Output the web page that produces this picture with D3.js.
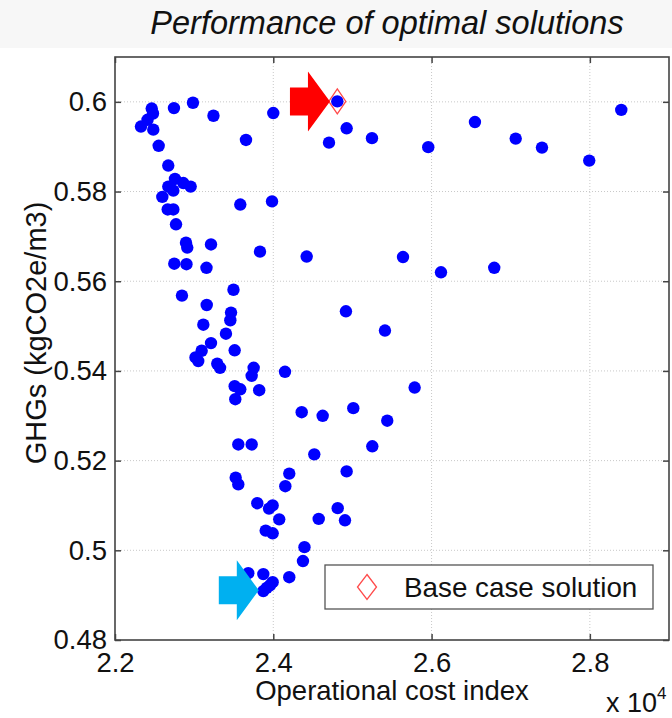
<!DOCTYPE html>
<html>
<head>
<meta charset="utf-8">
<script src="https://cdn.jsdelivr.net/npm/d3@7"></script>
<style>
  html, body { margin: 0; padding: 0; background: #ffffff; }
  svg { display: block; font-family: "Liberation Sans", Arial, Helvetica, sans-serif; }
</style>
</head>
<body>
<svg id="chart" width="672" height="718"></svg>
<script>
// ---- Data (operational cost index in units of 10^4, GHGs in kgCO2e/m3) ----
const costIndex = [
  2.2464, 2.2480, 2.2411, 2.2328, 2.2484, 2.2745, 2.2985, 2.3244, 2.4000, 2.4809,
  2.4927, 2.4704, 2.5247, 2.3655, 2.2552, 2.2673, 2.2758, 2.2863, 2.2956, 2.2673,
  2.2737, 2.2598, 2.2666, 2.2737, 2.2771, 2.2897, 2.2913, 2.3213, 2.3583, 2.3984,
  2.3832, 2.4422, 2.2749, 2.2903, 2.3156, 2.3497, 2.2846, 2.3159, 2.3466, 2.3457,
  2.3116, 2.3402, 2.3213, 2.3512, 2.3095, 2.3017, 2.3052, 2.3292, 2.3327, 2.3752,
  2.3727, 2.4148, 2.3512, 2.3583, 2.3822, 2.3520, 2.4359, 2.4624, 2.5011, 2.4918,
  2.5411, 2.5786, 2.5440, 2.5251, 2.3558, 2.3727, 2.4518, 2.4202, 2.4927, 2.3525,
  2.3558, 2.4152, 2.3798, 2.3992, 2.3946, 2.4814, 2.4075, 2.4574, 2.4906, 2.3904,
  2.3992, 2.4394, 2.4375, 2.4202, 2.3874, 2.3684, 2.3992, 2.3958, 2.3917, 2.3874,
  2.5958, 2.6548, 2.7063, 2.7395, 2.7992, 2.8397, 2.5639, 2.6119, 2.6792
];
const ghg = [
  0.5985, 0.5974, 0.5960, 0.5945, 0.5938, 0.5986, 0.5998, 0.5969, 0.5975, 0.6001,
  0.5941, 0.5909, 0.5919, 0.5915, 0.5902, 0.5858, 0.5828, 0.5819, 0.5811, 0.5811,
  0.5802, 0.5788, 0.5760, 0.5760, 0.5727, 0.5686, 0.5675, 0.5682, 0.5771, 0.5778,
  0.5666, 0.5655, 0.5639, 0.5638, 0.5630, 0.5581, 0.5568, 0.5547, 0.5530, 0.5513,
  0.5503, 0.5483, 0.5462, 0.5446, 0.5445, 0.5430, 0.5422, 0.5416, 0.5407, 0.5407,
  0.5389, 0.5398, 0.5366, 0.5359, 0.5357, 0.5337, 0.5308, 0.5300, 0.5317, 0.5533,
  0.5490, 0.5363, 0.5289, 0.5232, 0.5236, 0.5236, 0.5214, 0.5171, 0.5176, 0.5162,
  0.5147, 0.5143, 0.5105, 0.5100, 0.5093, 0.5094, 0.5069, 0.5070, 0.5067, 0.5044,
  0.5038, 0.5007, 0.4976, 0.4940, 0.4947, 0.4949, 0.4929, 0.4922, 0.4916, 0.4909,
  0.5899, 0.5955, 0.5918, 0.5898, 0.5869, 0.5982, 0.5654, 0.5620, 0.5630
];
const baseCost = [2.4809];
const baseGhg = [0.6001];
const xTicks = [2.2, 2.4, 2.6, 2.8];
const xTickLabels = ["2.2", "2.4", "2.6", "2.8"];
const yTicks = [0.48, 0.5, 0.52, 0.54, 0.56, 0.58, 0.6];
const yTickLabels = ["0.48", "0.5", "0.52", "0.54", "0.56", "0.58", "0.6"];
// annotation arrows: [cost, ghg] of the tip, colour
const arrowTips = [[2.4716, 0.6001], [2.3817, 0.4911]];
const arrowColors = ["#ff0000", "#00b0f0"];
const titleText = "Performance of optimal solutions";
const xLabel = "Operational cost index";
const yLabel = "GHGs (kgCO2e/m3)";
const legendLabel = "Base case solution";

// ---- Layout ----
const svg = d3.select("#chart");
const W = 672, H = 718;
const plot = { left: 115, right: 669, top: 57, bottom: 640 };

const x = d3.scaleLinear().domain([2.2, 2.9]).range([plot.left, plot.right]);
const y = d3.scaleLinear().domain([0.48, 0.61]).range([plot.bottom, plot.top]);

// background band behind title
svg.append("rect").attr("x", 0).attr("y", 0).attr("width", W).attr("height", 48)
  .attr("fill", "#f7f7f7");

// title
svg.append("text").attr("x", 387).attr("y", 34).attr("text-anchor", "middle")
  .attr("font-size", 32.5).attr("font-style", "italic").attr("fill", "#111")
  .text(titleText);

// plot background
svg.append("rect").attr("x", plot.left).attr("y", plot.top)
  .attr("width", plot.right - plot.left).attr("height", plot.bottom - plot.top)
  .attr("fill", "#fff");

// grid
const grid = svg.append("g").attr("stroke", "#c8c8c8").attr("stroke-width", 1)
  .attr("stroke-dasharray", "1,2");
grid.selectAll(".gx").data(xTicks.filter(d => d > 2.2)).enter().append("line")
  .attr("x1", d => x(d)).attr("x2", d => x(d)).attr("y1", plot.top).attr("y2", plot.bottom);
grid.selectAll(".gy").data(yTicks.filter(d => d > 0.48)).enter().append("line")
  .attr("y1", d => y(d)).attr("y2", d => y(d)).attr("x1", plot.left).attr("x2", plot.right);

// axes (ticks inward, labels)
const axisColor = "#444";
const xAxisB = d3.axisBottom(x).tickValues(xTicks).tickSizeInner(-6).tickSizeOuter(0)
  .tickPadding(12).tickFormat((d, i) => xTickLabels[i]);
const gxb = svg.append("g").attr("transform", `translate(0,${plot.bottom})`).call(xAxisB);
const xAxisT = d3.axisTop(x).tickValues(xTicks).tickSizeInner(-6).tickSizeOuter(0).tickFormat("");
const gxt = svg.append("g").attr("transform", `translate(0,${plot.top})`).call(xAxisT);
const yAxisL = d3.axisLeft(y).tickValues(yTicks).tickSizeInner(-6).tickSizeOuter(0)
  .tickPadding(8).tickFormat((d, i) => yTickLabels[i]);
const gyl = svg.append("g").attr("transform", `translate(${plot.left},0)`).call(yAxisL);
const yAxisR = d3.axisRight(y).tickValues(yTicks).tickSizeInner(-6).tickSizeOuter(0).tickFormat("");
const gyr = svg.append("g").attr("transform", `translate(${plot.right},0)`).call(yAxisR);

[gxb, gxt, gyl, gyr].forEach(g => {
  g.select(".domain").remove();
  g.selectAll(".tick line").attr("stroke", axisColor).attr("stroke-width", 1.5);
  g.selectAll(".tick text").attr("font-size", 27.5).attr("fill", "#111")
    .attr("font-family", "'Liberation Sans', Arial, sans-serif");
});

// frame
svg.append("rect").attr("x", plot.left).attr("y", plot.top)
  .attr("width", plot.right - plot.left).attr("height", plot.bottom - plot.top)
  .attr("fill", "none").attr("stroke", axisColor).attr("stroke-width", 1.6);

// points
const pts = costIndex.map((c, i) => ({ c, g: ghg[i] }));
svg.append("g").selectAll("circle").data(pts).enter().append("circle")
  .attr("cx", d => x(d.c)).attr("cy", d => y(d.g)).attr("r", 6.2)
  .attr("fill", "#0000ff");

// base case diamond
const diamond = (cx, cy, w, h) =>
  `M${cx},${cy - h / 2}L${cx + w / 2},${cy}L${cx},${cy + h / 2}L${cx - w / 2},${cy}Z`;
svg.append("g").selectAll("path").data(baseCost.map((c, i) => ({ c, g: baseGhg[i] })))
  .enter().append("path")
  .attr("d", d => diamond(x(d.c), y(d.g), 17, 25))
  .attr("fill", "none").attr("stroke", "#ff4a4a").attr("stroke-width", 1.3);

// arrows
const arrowPath = (tx, ty) => {
  const headL = 22, headH = 60, bodyL = 18, bodyH = 28;
  const bx = tx - headL;
  return `M${tx},${ty}L${bx},${ty - headH / 2}L${bx},${ty - bodyH / 2}L${bx - bodyL},${ty - bodyH / 2}` +
    `L${bx - bodyL},${ty + bodyH / 2}L${bx},${ty + bodyH / 2}L${bx},${ty + headH / 2}Z`;
};
svg.append("g").selectAll("path").data(arrowTips).enter().append("path")
  .attr("d", d => arrowPath(x(d[0]), y(d[1])))
  .attr("fill", (d, i) => arrowColors[i]);

// legend
const lg = svg.append("g");
lg.append("rect").attr("x", 325).attr("y", 565).attr("width", 328).attr("height", 44)
  .attr("fill", "#fff").attr("stroke", "#555").attr("stroke-width", 1.3);
lg.append("path").attr("d", diamond(367, 587, 19, 25))
  .attr("fill", "none").attr("stroke", "#ff4a4a").attr("stroke-width", 1.3);
lg.append("text").attr("x", 404).attr("y", 597).attr("font-size", 27.8).attr("fill", "#111")
  .text(legendLabel);

// axis labels
svg.append("text").attr("x", (plot.left + plot.right) / 2).attr("y", 700)
  .attr("text-anchor", "middle").attr("font-size", 27.5).attr("fill", "#111").text(xLabel);
svg.append("text").attr("transform", `translate(46,333) rotate(-90)`)
  .attr("text-anchor", "middle").attr("font-size", 29).attr("fill", "#111").text(yLabel);

// x multiplier
const mult = svg.append("text").attr("x", 606).attr("y", 712).attr("font-size", 27).attr("fill", "#111");
mult.append("tspan").text("x 10");
mult.append("tspan").attr("font-size", 17).attr("dy", -13).text("4");
</script>
</body>
</html>
